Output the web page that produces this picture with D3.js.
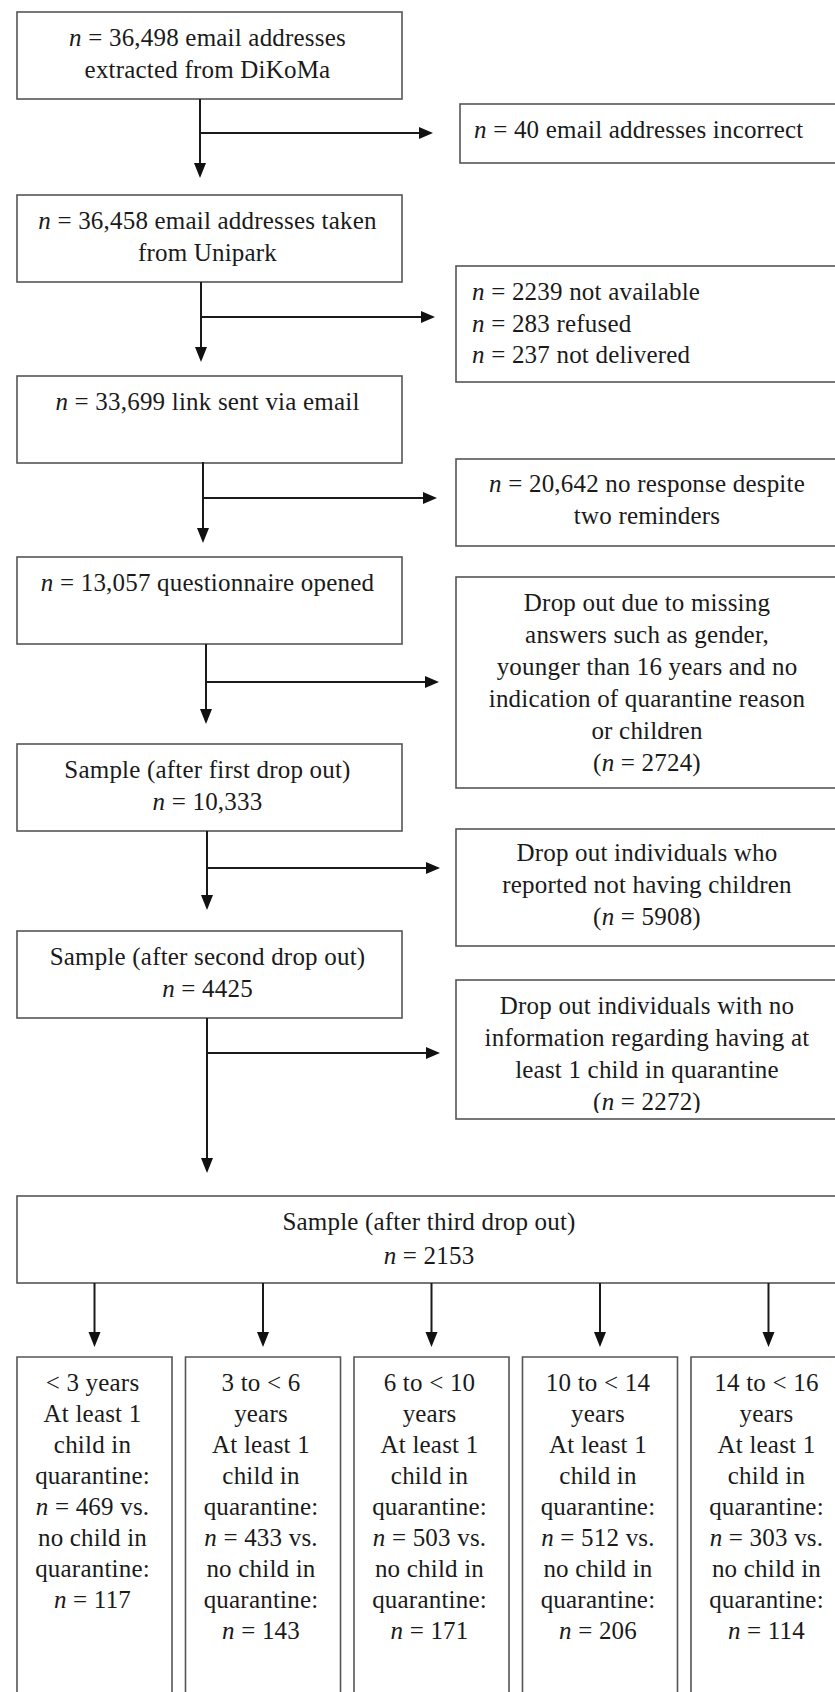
<!DOCTYPE html>
<html><head><meta charset="utf-8">
<script src="https://cdn.jsdelivr.net/npm/d3@7"></script>
<style>html,body{margin:0;padding:0;background:#fff;overflow:hidden}svg{display:block}</style>
</head><body><svg id="chart"></svg>
<script>
// ---------- data ----------
const flowCounts = [36498, 36458, 33699, 13057, 10333, 4425, 2153];
const incorrectCount = [40];
const unipark = [2239, 283, 237];
const noResponse = [20642];
const dropFirst = [2724];
const dropSecond = [5908];
const dropThird = [2272];
const ageGroups = ["< 3", "3 to < 6", "6 to < 10", "10 to < 14", "14 to < 16"];
const withQuarantine = [469, 433, 503, 512, 303];
const withoutQuarantine = [117, 143, 171, 206, 114];

// ---------- helpers ----------
const fmt = v => v >= 10000 ? d3.format(",")(v) : String(v);
const W = 835, H = 1692;
const FONT = "'Liberation Serif','Times New Roman',serif";
const FS = 25, LH = 32;

const svg = d3.select("#chart").attr("width", W).attr("height", H)
  .attr("viewBox", `0 0 ${W} ${H}`);
svg.append("rect").attr("width", W).attr("height", H).attr("fill", "#fff");
const defs = svg.append("defs");

function addLine(g, x, yc, line, anchor) {
  const t = g.append("text").attr("x", x).attr("y", yc + 8)
    .attr("text-anchor", anchor).attr("font-family", FONT)
    .attr("font-size", FS).attr("letter-spacing", 0.2).attr("fill", "#1a1a1a");
  line.split(/(\bn\b)/).filter(s => s.length).forEach(s => {
    const ts = t.append("tspan").text(s);
    if (s === "n") ts.attr("font-style", "italic");
  });
}
function box(x0, y0, x1, y1) {
  svg.append("rect").attr("x", x0).attr("y", y0)
    .attr("width", x1 - x0).attr("height", y1 - y0)
    .attr("fill", "none").attr("stroke", "#555").attr("stroke-width", 1.6);
}
function arrowDown(x, tipY) {
  svg.append("path").attr("d", `M${x - 6},${tipY - 15}L${x + 6},${tipY - 15}L${x},${tipY}Z`).attr("fill", "#111");
}
function arrowRight(tipX, y) {
  svg.append("path").attr("d", `M${tipX - 14},${y - 6}L${tipX - 14},${y + 6}L${tipX},${y}Z`).attr("fill", "#111");
}
function seg(x1, y1, x2, y2) {
  svg.append("line").attr("x1", x1).attr("y1", y1).attr("x2", x2).attr("y2", y2)
    .attr("stroke", "#1a1a1a").attr("stroke-width", 2);
}

// ---------- main column ----------
const mainLines = [
  [`n = ${fmt(flowCounts[0])} email addresses`, "extracted from DiKoMa"],
  [`n = ${fmt(flowCounts[1])} email addresses taken`, "from Unipark"],
  [`n = ${fmt(flowCounts[2])} link sent via email`],
  [`n = ${fmt(flowCounts[3])} questionnaire opened`],
  ["Sample (after first drop out)", `n = ${fmt(flowCounts[4])}`],
  ["Sample (after second drop out)", `n = ${fmt(flowCounts[5])}`]
];
const mainTops = [12, 195, 376, 557, 744, 931];
const mainH = 87, mainX0 = 17, mainX1 = 402;
mainLines.forEach((lines, i) => {
  const y0 = mainTops[i];
  box(mainX0, y0, mainX1, y0 + mainH);
  const g = svg.append("g");
  lines.forEach((l, j) => addLine(g, (mainX0 + mainX1) / 2 - 2, y0 + 26 + j * LH, l, "middle"));
});

// ---------- side (exclusion) boxes ----------
const sideLines = [
  [`n = ${fmt(incorrectCount[0])} email addresses incorrect`],
  [`n = ${fmt(unipark[0])} not available`, `n = ${fmt(unipark[1])} refused`, `n = ${fmt(unipark[2])} not delivered`],
  [`n = ${fmt(noResponse[0])} no response despite`, "two reminders"],
  ["Drop out due to missing", "answers such as gender,", "younger than 16 years and no",
   "indication of quarantine reason", "or children", `(n = ${fmt(dropFirst[0])})`],
  ["Drop out individuals who", "reported not having children", `(n = ${fmt(dropSecond[0])})`],
  ["Drop out individuals with no", "information regarding having at",
   "least 1 child in quarantine", `(n = ${fmt(dropThird[0])})`]
];
const sideGeom = [
  {x0: 460, y0: 104, y1: 163, first: 130, align: "start", tx: 474},
  {x0: 456, y0: 266, y1: 382, first: 292, align: "start", tx: 472, lh: 31.5},
  {x0: 456, y0: 459, y1: 546, first: 484, align: "middle"},
  {x0: 456, y0: 577, y1: 788, first: 603, align: "middle"},
  {x0: 456, y0: 829, y1: 946, first: 853, align: "middle"},
  {x0: 456, y0: 980, y1: 1119, first: 1006, align: "middle", clip: 1113}
];
const sideX1 = 840;
sideLines.forEach((lines, i) => {
  const s = sideGeom[i];
  box(s.x0, s.y0, sideX1, s.y1);
  const g = svg.append("g");
  if (s.clip) {
    const id = "clip" + i;
    defs.append("clipPath").attr("id", id).append("rect")
      .attr("x", s.x0).attr("y", s.y0).attr("width", sideX1 - s.x0).attr("height", s.clip - s.y0);
    g.attr("clip-path", `url(#${id})`);
  }
  const tx = s.align === "start" ? s.tx : (s.x0 + sideX1) / 2 - 1;
  lines.forEach((l, j) => addLine(g, tx, s.first + j * (s.lh || LH), l, s.align));
});

// ---------- connectors ----------
const conn = [
  {x: 200, y0: 99,  tip: 178, by: 133, btip: 433},
  {x: 201, y0: 282, tip: 362, by: 317, btip: 435},
  {x: 203, y0: 462, tip: 543, by: 498, btip: 437},
  {x: 206, y0: 644, tip: 724, by: 682, btip: 439},
  {x: 207, y0: 831, tip: 910, by: 868, btip: 440},
  {x: 207, y0: 1018, tip: 1173, by: 1053, btip: 440}
];
conn.forEach(c => {
  seg(c.x, c.y0, c.x, c.tip - 12); arrowDown(c.x, c.tip);
  seg(c.x, c.by, c.btip - 12, c.by); arrowRight(c.btip, c.by);
});

// ---------- final sample box ----------
const bigTop = 1196, bigBot = 1283;
box(17, bigTop, 841, bigBot);
{
  const g = svg.append("g");
  ["Sample (after third drop out)", `n = ${fmt(flowCounts[6])}`]
    .forEach((l, j) => addLine(g, 429, bigTop + 26 + j * 34, l, "middle"));
}

// ---------- age-group columns ----------
const xCol = d3.scaleBand().domain(ageGroups).range([17, 846]).paddingInner(0.08).paddingOuter(0);
const colTop = 1357, colTip = 1347;
ageGroups.forEach((a, i) => {
  const x0 = xCol(a), bw = xCol.bandwidth(), cx = x0 + bw / 2;
  seg(cx, bigBot, cx, colTip - 12); arrowDown(cx, colTip);
  svg.append("path").attr("d", `M${x0},${H + 10}V${colTop}H${x0 + bw}V${H + 10}`)
    .attr("fill", "none").attr("stroke", "#555").attr("stroke-width", 1.6);
  const head = a.length <= 4 ? [`${a} years`] : [a, "years"];
  const lines = head.concat(["At least 1", "child in", "quarantine:",
    `n = ${fmt(withQuarantine[i])} vs.`, "no child in", "quarantine:", `n = ${fmt(withoutQuarantine[i])}`]);
  const g = svg.append("g");
  lines.forEach((l, j) => addLine(g, cx - 2, 1383 + j * 31, l, "middle"));
});
</script>
</body></html>
